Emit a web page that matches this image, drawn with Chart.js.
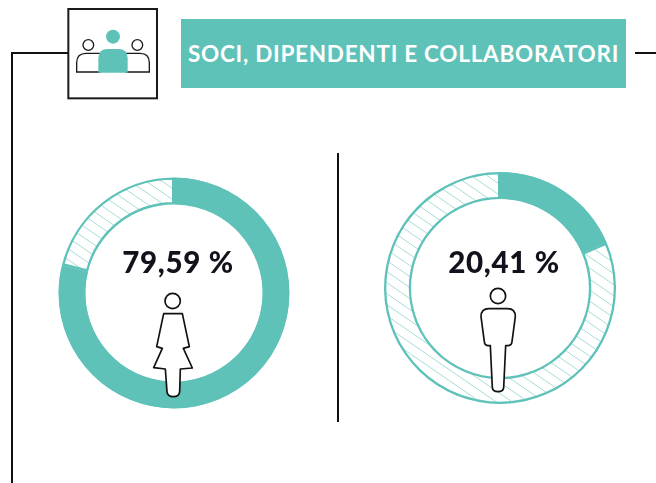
<!DOCTYPE html>
<html><head><meta charset="utf-8">
<script src="https://cdn.jsdelivr.net/npm/chart.js@4"></script>
<style>
html,body{margin:0;padding:0;background:#fff;width:656px;height:483px;overflow:hidden}
#stage{position:relative;width:656px;height:483px;font-family:Lato,sans-serif}
#stage>*{position:absolute}
.ln{background:#111}
#title{left:181px;top:19px;width:445px;height:69px;background:#5fc2b9;color:#fff;font-weight:700;font-size:22.5px;line-height:69px;white-space:nowrap;text-indent:7px;letter-spacing:.73px}
.pct{font-weight:900;font-size:29.5px;color:#12121c;letter-spacing:.7px;white-space:nowrap;transform:translateX(-50%);line-height:36px}
canvas{display:block}
</style></head><body>
<div id="stage">
 <div class="ln" style="left:11px;top:52px;width:57px;height:2px"></div>
 <div class="ln" style="left:11px;top:52px;width:2px;height:431px"></div>
 <div class="ln" style="left:635px;top:52px;width:21px;height:2px"></div>
 <div class="ln" style="left:337px;top:153px;width:2px;height:269px"></div>
 <svg style="left:0;top:0" width="200" height="110" viewBox="0 0 600 330">
  <rect x="205" y="27" width="266" height="268" fill="#fff" stroke="#1a1a1a" stroke-width="6"/>
  <g fill="#fff" stroke="#1a1a1a" stroke-width="4">
   <circle cx="265" cy="135" r="16"/><circle cx="412" cy="135" r="16"/>
   <path d="M230 216V188Q230 160 258 160H300V216Z"/>
   <path d="M448 216V188Q448 160 420 160H378V216Z"/>
  </g>
  <circle cx="339" cy="110" r="21" fill="#5fc2b9"/>
  <path d="M295 218V175Q295 147 323 147H355Q383 147 383 175V218Z" fill="#5fc2b9"/>
 </svg>
 <div id="title">SOCI, DIPENDENTI E COLLABORATORI</div>
 <canvas id="c1" width="240" height="240" style="left:54px;top:173px"></canvas>
 <canvas id="c2" width="240" height="240" style="left:380px;top:168px"></canvas>
 <div class="pct" id="p1" style="left:178px;top:244px"></div>
 <div class="pct" id="p2" style="left:504px;top:244px"></div>
 <svg style="left:50px;top:165px" width="250" height="250" viewBox="0 0 750 750">
  <g fill="#fff" stroke="#111" stroke-width="5" stroke-linejoin="round">
   <circle cx="368" cy="408" r="23"/>
   <path d="M341 446H397L418 545L400 550L427 609L391 612L389 680Q388 695 370 695Q352 695 351 680L346 612L311 608L337 550L320 545Z"/>
  </g>
 </svg>
 <svg style="left:375px;top:165px" width="250" height="250" viewBox="0 0 750 750">
  <g fill="#fff" stroke="#111" stroke-width="5" stroke-linejoin="round">
   <circle cx="369" cy="393" r="23"/>
   <path d="M342 431H398Q421 431 421 455L411 530Q410 542 398 542H392L386 668Q385 680 369 680Q353 680 352 668L346 542H340Q329 542 328 530L318 455Q318 431 342 431Z"/>
  </g>
 </svg>
</div>
<script>
const segments = ["Quota", "Resto"];
const femaleValues = [78.9, 21.1];
const maleValues = [18.6, 81.4];
const labelsPct = ["79,59 %", "20,41 %"];
const TEAL = "#5fc2b9";

function hatch(){
  const w = 16, h = 11, t = document.createElement("canvas");
  t.width = w; t.height = h;
  const x = t.getContext("2d");
  x.fillStyle = "#fff"; x.fillRect(0,0,w,h);
  x.strokeStyle = "#a9ddd7"; x.lineWidth = 1;
  x.beginPath();
  x.moveTo(-w,-h); x.lineTo(2*w,2*h);
  x.moveTo(-w,0); x.lineTo(w,h*2);
  x.moveTo(0,-h); x.lineTo(2*w,h);
  x.stroke();
  return x.createPattern(t,"repeat");
}
function donut(id, values, outer){
  return new Chart(document.getElementById(id), {
    type: "doughnut",
    data: { labels: segments, datasets: [{
      data: values,
      backgroundColor: [TEAL, hatch()],
      borderColor: TEAL,
      borderWidth: 2,
      borderAlign: "inner",
      spacing: 0,
      radius: outer,
      cutout: 92
    }]},
    options: {
      responsive: false, animation: false,
      layout: { padding: 0 },
      plugins: { legend: { display: false }, tooltip: { enabled: false } }
    }
  });
}
donut("c1", femaleValues, 115.5);
donut("c2", maleValues, 116);
document.getElementById("p1").textContent = labelsPct[0];
document.getElementById("p2").textContent = labelsPct[1];
</script>
</body></html>
